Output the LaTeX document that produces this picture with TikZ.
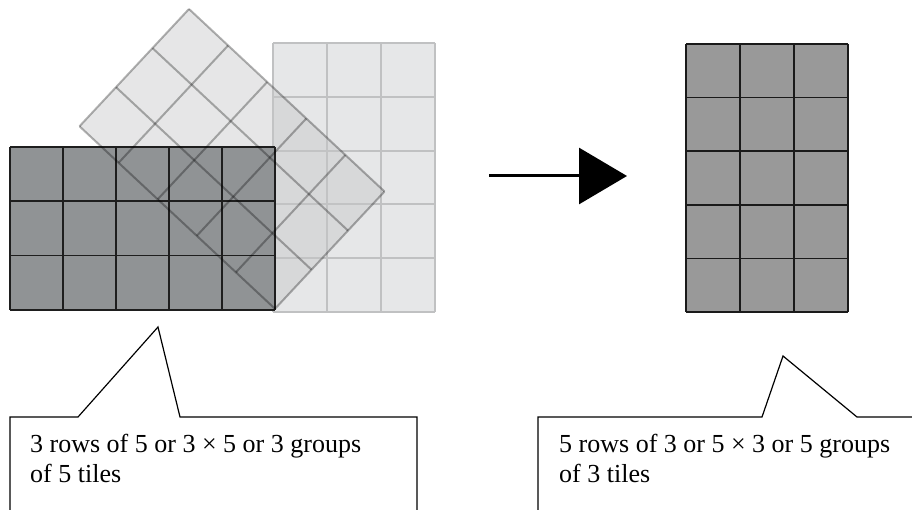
\documentclass[tikz,border=0pt]{standalone}
\usepackage{fontspec}
\setmainfont{Liberation Serif}
\usetikzlibrary{arrows.meta}
\definecolor{darkF}{HTML}{909395}
\definecolor{darkD}{HTML}{1E1E1E}
\definecolor{lightF}{HTML}{E6E7E8}
\definecolor{lightD}{HTML}{C0C1C2}
\definecolor{turnF}{HTML}{C6C7C8}
\definecolor{doneF}{HTML}{999999}
\definecolor{doneD}{HTML}{1A1A1A}
\tikzset{
  darktile/.style={fill=darkF, draw=darkD, line width=1.6pt},
  lighttile/.style={fill=lightF, draw=lightD, line width=2pt},
  turntile/.style={fill=turnF, fill opacity=0.44, draw=black, draw opacity=0.3, line width=2pt},
  donetile/.style={fill=doneF, draw=doneD, line width=1.6pt},
  callout/.style={draw=black, line width=1.2pt},
  calltext/.style={font=\fontsize{26}{30}\selectfont, align=left, anchor=base west, inner sep=0pt},
  bigarrow/.style={-{Triangle[length=48pt,width=56pt]}, line width=3pt},
}
\newcommand\tilefill[3]{\path[#1, draw=none] (0,0) -- (#2,0) -- (#2,#3) -- (0,#3) -- cycle;}
\newcommand\tilelines[3]{%
  \foreach \c in {0,...,#2} \draw[#1, fill=none] (\c,0) -- (\c,#3);
  \foreach \r in {0,...,#3} \draw[#1, fill=none] (0,\r) -- (#2,\r);}

\begin{document}
\begin{tikzpicture}[x=1pt, y=-1pt]
\useasboundingbox (0,0) rectangle (912,510);
\clip (0,0) rectangle (912,510);
% upright light grid, 5 rows of 3
\begin{scope}[shift={(273,43)}, x=54pt, y=-53.8pt]
  \tilefill{lighttile}{3}{5}
  \tilelines{lighttile}{3}{5}
\end{scope}
% turned grid
\begin{scope}[shift={(189,9)}, x={(39.1pt,-36.5pt)}, y={(-36.5pt,-39.1pt)}]
  \tilefill{turntile}{5}{3}
\end{scope}
% dark grid, 3 rows of 5
\begin{scope}[shift={(10,147)}, x=53pt, y=-54.3pt]
  \tilefill{darktile}{5}{3}
  \tilelines{darktile}{5}{3}
\end{scope}
\begin{scope}[shift={(189,9)}, x={(39.1pt,-36.5pt)}, y={(-36.5pt,-39.1pt)}]
  \tilelines{turntile}{5}{3}
\end{scope}
% result grid
\begin{scope}[shift={(686,44)}, x=54pt, y=-53.6pt]
  \tilefill{donetile}{3}{5}
  \tilelines{donetile}{3}{5}
\end{scope}
\coordinate (arrtail) at (489,176);
\coordinate (arrtip) at (627,176);
\draw[bigarrow] (arrtail) -- (arrtip);
% callouts
\draw[callout] (10,514) -- (10,417) -- (78,417) -- (158,327) -- (180,417) -- (417,417) -- (417,514);
\draw[callout] (538,514) -- (538,417) -- (762,417) -- (783,356) -- (857,417) -- (914,417);
\node[calltext] (lefttext) at (30,482) {3 rows of 5 or 3 × 5 or 3 groups\\of 5 tiles};
\node[calltext] (righttext) at (559,482) {5 rows of 3 or 5 × 3 or 5 groups\\of 3 tiles};
\end{tikzpicture}
\end{document}
